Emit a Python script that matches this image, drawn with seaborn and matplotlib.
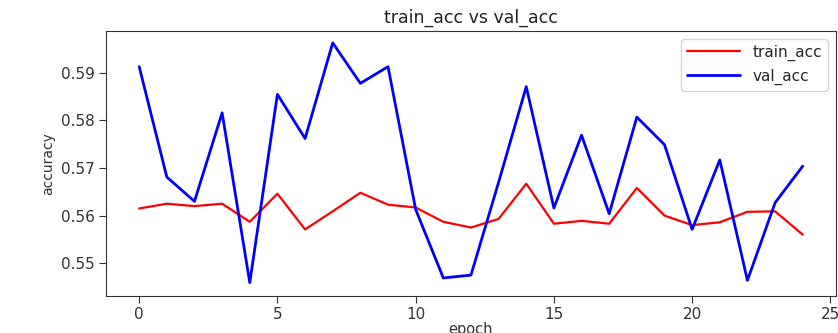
import numpy as np
import pandas as pd
import matplotlib
matplotlib.use("Agg")
import matplotlib.pyplot as plt
import seaborn as sns

# epoch 별 정확도
epochs = list(range(25))
train_acc = [0.5615, 0.5625, 0.5620, 0.5625, 0.5587, 0.5646, 0.5571, 0.5609,
             0.5648, 0.5623, 0.5617, 0.5587, 0.5575, 0.5593, 0.5667, 0.5583,
             0.5589, 0.5583, 0.5658, 0.5600, 0.5580, 0.5586, 0.5608, 0.5609,
             0.5560]
val_acc = [0.5913, 0.5681, 0.5630, 0.5816, 0.5459, 0.5855, 0.5762, 0.5963,
           0.5878, 0.5913, 0.5613, 0.5469, 0.5475, 0.5670, 0.5871, 0.5616,
           0.5769, 0.5604, 0.5807, 0.5749, 0.5571, 0.5717, 0.5464, 0.5627,
           0.5704]
y_ticks = [0.55, 0.56, 0.57, 0.58, 0.59]

sns.set_style("ticks")
plt.rcParams['font.family'] = ['DejaVu Sans']

fig = plt.figure(figsize=(8.38, 3.33), dpi=100)
ax = fig.add_axes([0.1265, 0.111, 0.871, 0.796])

sns.lineplot(x=epochs, y=train_acc, color="red", linewidth=1.6, label="train_acc", ax=ax)
sns.lineplot(x=epochs, y=val_acc, color="blue", linewidth=2.0, label="val_acc", ax=ax)

ax.set_xlim(-1.2, 25.2)
ax.set_ylim(0.5431, 0.5988)
ax.set_xticks([0, 5, 10, 15, 20, 25])
ax.set_yticks(y_ticks)
ax.tick_params(labelsize=11, colors="#333333", length=5, pad=3)
for s in ax.spines.values():
    s.set_color("#333333")

ax.set_title("train_acc vs val_acc", fontsize=12.5, color="#222222")
ax.set_xlabel("epoch", fontsize=10.5, color="#333333", labelpad=0)
ax.set_ylabel("accuracy", fontsize=10, color="#333333")
ax.legend(loc="upper right", fontsize=11, handlelength=3.5)

fig.savefig("out.png", dpi=100)
